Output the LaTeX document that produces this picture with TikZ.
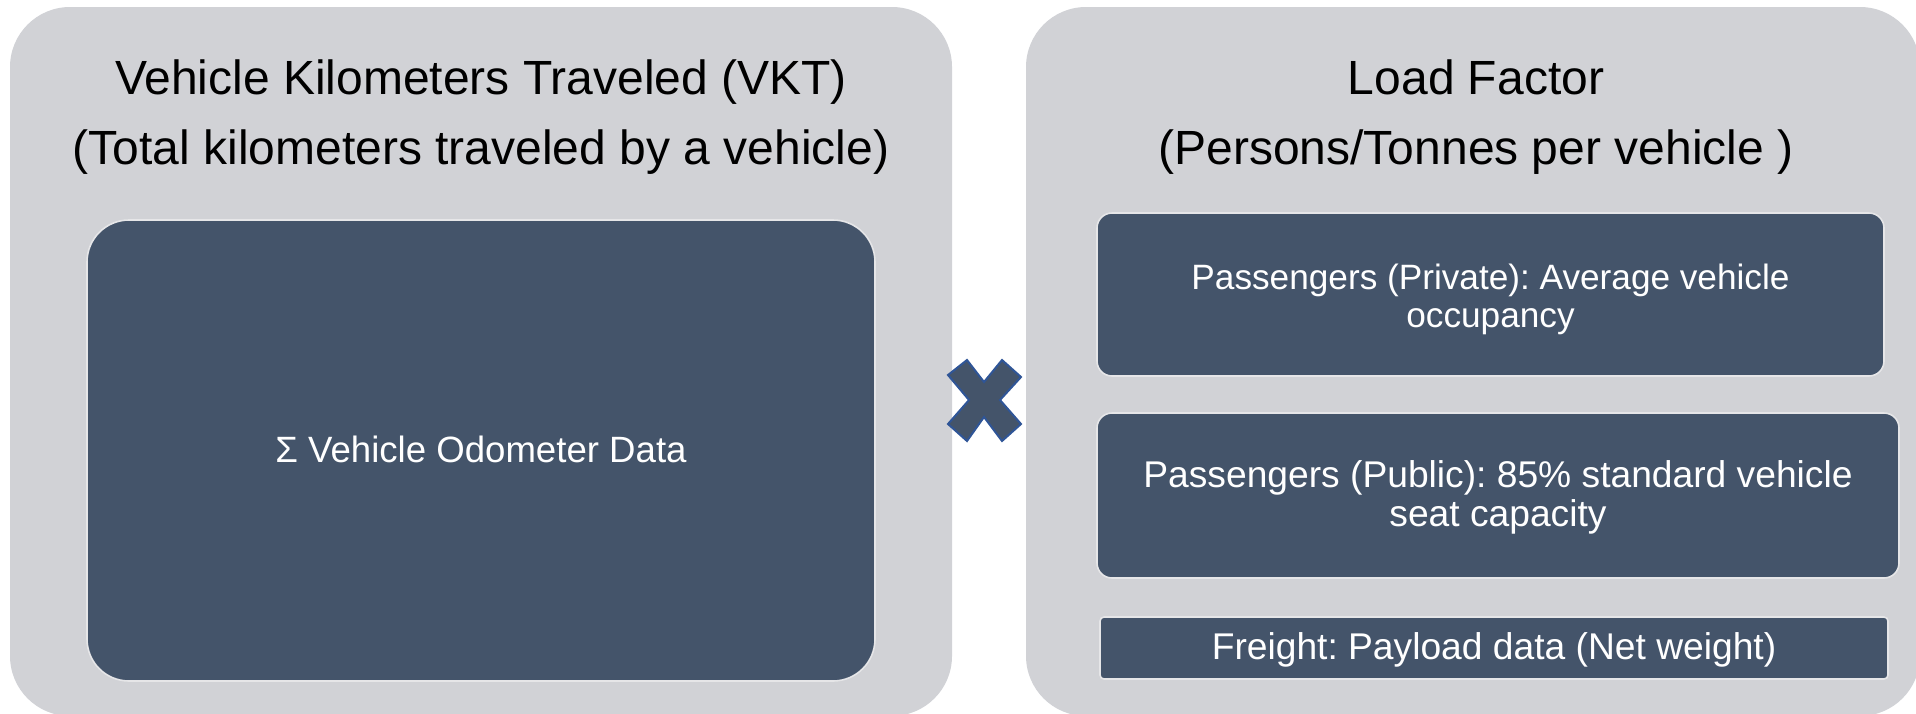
\documentclass[tikz,border=0pt]{standalone}
\usepackage{fontspec}
\setmainfont{Liberation Sans}
\frenchspacing
\definecolor{panelgray}{HTML}{D1D2D6}
\definecolor{boxblue}{HTML}{44546A}
\definecolor{boxrim}{HTML}{E6E6E8}
\definecolor{crossrim}{HTML}{2F5597}
\tikzset{
  panel/.style={rectangle, fill=panelgray, draw=none, rounded corners=30pt,
    inner sep=0pt, outer sep=0pt},
  darkbox/.style={rectangle, fill=boxblue, draw=boxrim, line width=0.8pt,
    inner sep=0pt, outer sep=0pt},
  heading/.style={align=center, text=black, inner sep=0pt,
    font=\fontsize{24pt}{35pt}\selectfont},
  boxtext/.style={align=center, text=white, inner sep=0pt,
    font=\fontsize{17.6pt}{19pt}\selectfont},
  bigboxtext/.style={boxtext, font=\fontsize{18.6pt}{19.5pt}\selectfont},
}
\begin{document}
\begin{tikzpicture}[x=0.5pt, y=-0.5pt]
\useasboundingbox (0,0) rectangle (1916,713);
\clip (0,0) rectangle (1916,713);

% two background panels
\node[panel, minimum width=471pt, minimum height=354.5pt] (vktpanel) at (481,361.5) {};
\node[panel, minimum width=447pt, minimum height=354.5pt] (lfpanel) at (1473,361.5) {};

% headings
\node[heading] (vkttitle) at (481,117) {Vehicle Kilometers Traveled (VKT)\\(Total kilometers traveled by a vehicle)};
\node[heading] (lftitle) at (1476,117) {Load Factor\\(Persons/Tonnes per vehicle )};

% VKT content
\node[darkbox, rounded corners=21pt, minimum width=394pt, minimum height=230.5pt] (odo) at (481,450.5) {};
\node[boxtext, font=\fontsize{18.3pt}{22pt}\selectfont] (odotext) at ([yshift=0.5pt]odo.center) {Σ Vehicle Odometer Data};

% load factor content
\node[darkbox, rounded corners=7.5pt, minimum width=393.5pt, minimum height=81.5pt]
  (private) at (1490.5,294.5) {};
\node[boxtext] (privatetext) at ([yshift=-2.5pt]private.center) {Passengers (Private): Average vehicle\\occupancy};
\node[darkbox, rounded corners=7.5pt, minimum width=401pt, minimum height=82.5pt]
  (public) at (1498,495.5) {};
\node[bigboxtext] (publictext) at ([yshift=-1pt]public.center) {Passengers (Public): 85\% standard vehicle\\seat capacity};
\node[darkbox, rounded corners=2pt, minimum width=394pt, minimum height=31pt]
  (freight) at (1494,648) {};
\node[bigboxtext] (freighttext) at ([yshift=-0.8pt]freight.center) {Freight: Payload data (Net weight)};

% multiplication sign between the panels
\filldraw[fill=boxblue, draw=crossrim, line width=1pt, line join=miter]
  (967,360) -- (984,382) -- (1002,360) -- (1021,377) -- (1000,400) -- (1021,424)
  -- (1002,441) -- (984,417) -- (967,441) -- (948,424) -- (969,400) -- (948,375) -- cycle;
\end{tikzpicture}
\end{document}
